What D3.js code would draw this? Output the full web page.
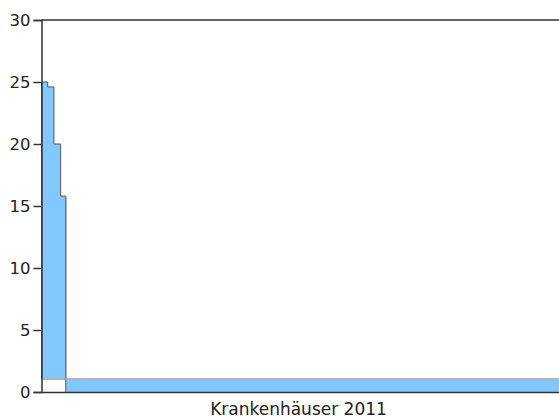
<!DOCTYPE html>
<html><head><meta charset="utf-8">
<script src="https://cdn.jsdelivr.net/npm/d3@7"></script>
<style>body{margin:0;background:#fff}svg{display:block}</style>
</head><body>
<script>
// Data: cumulative share of hospitals (x, %) and values per step
const stepStarts = [0, 1.2, 2.4, 3.7];
const stepEnds   = [1.2, 2.4, 3.7, 4.7];
const stepValues = [25, 24.6, 20, 15.8];
const baseValue = 1.05;        // base band value across all hospitals
const restStart = 4.7, restEnd = 100;
const yTicks = [0, 5, 10, 15, 20, 25, 30];
const xLabel = "Krankenhäuser 2011";

const W = 559, H = 419;
const m = {l: 41.5, r: 0, t: 20, b: 27};
const svg = d3.select("body").append("svg").attr("width", W).attr("height", H);
const x = d3.scaleLinear().domain([0, 100]).range([m.l, W - m.r]);
const y = d3.scaleLinear().domain([0, 30]).range([H - m.b, m.t]);

const g = svg.append("g");

g.selectAll("rect.base").data(stepStarts).join("rect")
  .attr("x", (d,i) => x(d)).attr("width", (d,i) => x(stepEnds[i]) - x(d))
  .attr("y", y(baseValue)).attr("height", y(0) - y(baseValue))
  .attr("fill", "#fff");

const pts = [];
stepStarts.forEach((s,i) => { pts.push([s, stepValues[i]]); pts.push([stepEnds[i], stepValues[i]]); });
const area = d3.area().x(d => x(d[0])).y0(y(baseValue)).y1(d => y(d[1]));
g.append("path").datum(pts).attr("d", area).attr("fill", "#80c8ff");
const line = d3.line().x(d => x(d[0])).y(d => y(d[1]));
const outline = [[0, baseValue]].concat(pts).concat([[stepEnds[stepEnds.length-1], baseValue], [stepEnds[stepEnds.length-1], 0]]);
g.append("path").datum(outline).attr("d", line).attr("fill", "none")
  .attr("stroke", "#555").attr("stroke-width", 1);

g.append("rect").attr("x", x(restStart)).attr("width", x(restEnd) - x(restStart))
  .attr("y", y(baseValue)).attr("height", y(0) - y(baseValue)).attr("fill", "#80c8ff");

g.append("line").attr("x1", x(0)).attr("x2", x(restEnd))
  .attr("y1", y(baseValue)).attr("y2", y(baseValue))
  .attr("stroke", "#b4b4b4").attr("stroke-width", 2);
g.append("line").attr("x1", x(restStart)).attr("x2", x(restStart))
  .attr("y1", y(stepValues[stepValues.length-1])).attr("y2", y(0))
  .attr("stroke", "#777").attr("stroke-width", 1);

svg.append("line").attr("x1", m.l).attr("x2", W).attr("y1", y(30)).attr("y2", y(30))
  .attr("stroke", "#333").attr("stroke-width", 1.5);

const yAxis = svg.append("g").attr("transform", `translate(${m.l},0)`)
  .call(d3.axisLeft(y).tickValues(yTicks).tickSize(8).tickPadding(3));
yAxis.selectAll("path,line").attr("stroke", "#333").attr("stroke-width", 1.5);
yAxis.selectAll("text").attr("font-family", "DejaVu Sans, Verdana, sans-serif")
  .attr("font-size", 16.5).attr("fill", "#222");

const xAxis = svg.append("g").attr("transform", `translate(0,${y(0)})`)
  .call(d3.axisBottom(x).tickValues([]).tickSizeOuter(0));
xAxis.select("path").attr("stroke", "#333").attr("stroke-width", 1.5);

svg.append("text").attr("x", 298.5).attr("y", 415)
  .attr("text-anchor", "middle")
  .attr("font-family", "DejaVu Sans, Verdana, sans-serif").attr("font-size", 17)
  .attr("fill", "#222").text(xLabel);
</script>
</body></html>
